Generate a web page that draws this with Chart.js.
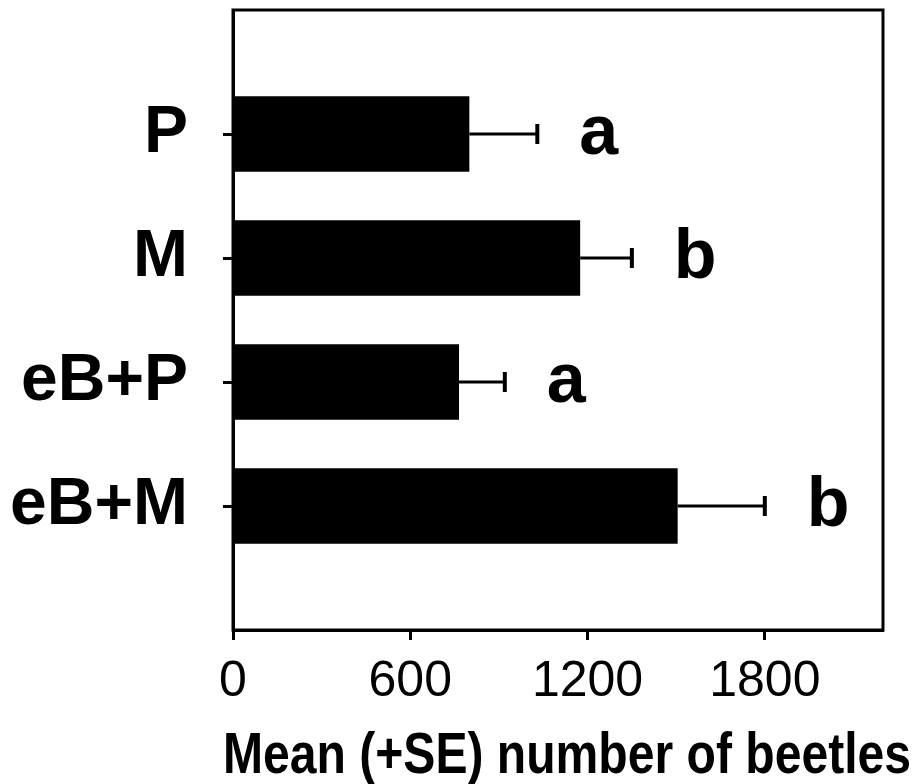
<!DOCTYPE html>
<html lang="en">
<head>
    <meta charset="UTF-8">
    <title>Mean number of beetles</title>
    <script src="https://cdn.jsdelivr.net/npm/chart.js"></script>
    <style>
        html, body { margin: 0; padding: 0; background: #fff; }
        #wrap { width: 914px; height: 784px; }
    </style>
</head>
<body>
    <div id="wrap"><canvas id="myChart" width="914" height="784"></canvas></div>
    <script>
        // data
        const categories = ['P', 'M', 'eB+P', 'eB+M'];
        const means = [800, 1175, 765, 1505];
        const se = [230, 175, 155, 295];
        const letters = ['a', 'b', 'a', 'b'];
        const xTicks = [0, 600, 1200, 1800];
        const xMax = 2200;
        const xTitle = 'Mean (+SE) number of beetles';

        // empty label at each end so the box has room above and below the bars
        const labels = [''].concat(categories, ['']);
        const values = [null].concat(means, [null]);
        const errors = [null].concat(se, [null]);
        const marks = [null].concat(letters, [null]);

        const FONT = "'Liberation Sans', Arial, sans-serif";

        // box round the plot area, plus the x title (condensed, a bit wider than the axis)
        const frame = {
            id: 'frame',
            afterDraw(chart) {
                const a = chart.chartArea;
                const ctx = chart.ctx;
                ctx.save();
                ctx.strokeStyle = '#000';
                ctx.lineWidth = 3;
                ctx.strokeRect(a.left, a.top, a.right - a.left, a.bottom - a.top);

                ctx.fillStyle = '#000';
                ctx.font = 'bold 57px ' + FONT;
                ctx.textAlign = 'center';
                ctx.textBaseline = 'alphabetic';
                ctx.fillText(xTitle, (a.left + a.right) / 2 + 9, chart.height - 11, 688);
                ctx.restore();
            }
        };

        // +SE error bars and the letters after them
        const errorBars = {
            id: 'errorBars',
            afterDatasetsDraw(chart) {
                const ctx = chart.ctx;
                const xs = chart.scales.x;
                const meta = chart.getDatasetMeta(0);
                ctx.save();
                ctx.strokeStyle = '#000';
                ctx.fillStyle = '#000';
                meta.data.forEach((bar, i) => {
                    if (values[i] == null) return;
                    const x0 = xs.getPixelForValue(values[i]);
                    const x1 = xs.getPixelForValue(values[i] + errors[i]);
                    const y = bar.y;
                    ctx.lineWidth = 3;
                    ctx.beginPath();
                    ctx.moveTo(x0, y);
                    ctx.lineTo(x1, y);
                    ctx.stroke();
                    ctx.lineWidth = 4;
                    ctx.beginPath();
                    ctx.moveTo(x1, y - 10);
                    ctx.lineTo(x1, y + 10);
                    ctx.stroke();

                    ctx.font = 'bold 70px ' + FONT;
                    ctx.textAlign = 'left';
                    ctx.textBaseline = 'alphabetic';
                    ctx.fillText(marks[i], x1 + 42, y + 20);
                });
                ctx.restore();
            }
        };

        const ctx = document.getElementById('myChart').getContext('2d');
        const myChart = new Chart(ctx, {
            type: 'bar',
            data: {
                labels: labels,
                datasets: [{
                    data: values,
                    backgroundColor: '#000',
                    borderWidth: 0,
                    barPercentage: 0.61,
                    categoryPercentage: 1.0
                }]
            },
            options: {
                indexAxis: 'y',
                responsive: false,
                animation: false,
                layout: { padding: { top: 10, right: 31, left: 0, bottom: 0 } },
                plugins: {
                    legend: { display: false },
                    tooltip: { enabled: false }
                },
                scales: {
                    y: {
                        type: 'category',
                        offset: false,
                        afterFit: s => { s.width = 233; s.paddingTop = 0; s.paddingBottom = 0; },
                        grid: {
                            offset: false,
                            drawOnChartArea: false,
                            drawTicks: true,
                            tickLength: 10,
                            tickWidth: 3,
                            tickColor: c => (labels[c.index] ? '#000' : 'rgba(0,0,0,0)')
                        },
                        border: { display: true, color: '#000', width: 3 },
                        ticks: {
                            color: '#000',
                            padding: 35,
                            font: { family: FONT, size: 66, weight: 'bold' }
                        }
                    },
                    x: {
                        type: 'linear',
                        min: 0,
                        max: xMax,
                        afterFit: s => { s.height = 154; },
                        afterBuildTicks: s => { s.ticks = xTicks.map(v => ({ value: v })); },
                        grid: {
                            drawOnChartArea: false,
                            drawTicks: true,
                            tickLength: 10,
                            tickWidth: 3,
                            tickColor: '#000'
                        },
                        border: { display: true, color: '#000', width: 3 },
                        ticks: {
                            color: '#000',
                            padding: 12,
                            maxRotation: 0,
                            callback: v => String(v),
                            font: { family: FONT, size: 50 }
                        },
                        title: { display: false }
                    }
                }
            },
            plugins: [frame, errorBars]
        });
    </script>
</body>
</html>
